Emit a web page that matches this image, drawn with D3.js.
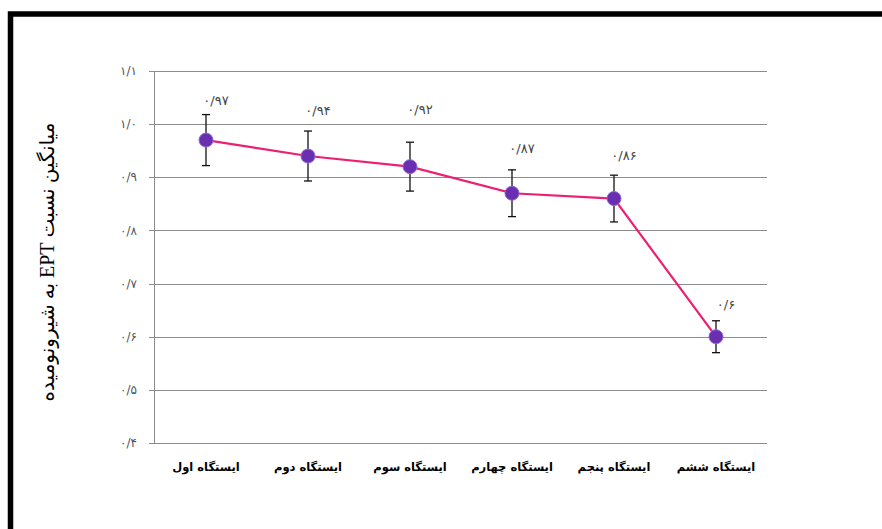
<!DOCTYPE html>
<html>
<head>
<meta charset="utf-8">
<script src="https://cdn.jsdelivr.net/npm/d3@7"></script>
<style>
  body { margin: 0; background: #fff; }
  svg { display: block; }
</style>
</head>
<body>
<div id="chart"></div>
<script>
// stations, mean EPT/Chironomidae ratio, error
const stations = ["ایستگاه اول", "ایستگاه دوم", "ایستگاه سوم", "ایستگاه چهارم", "ایستگاه پنجم", "ایستگاه ششم"];
const ratios = [0.97, 0.94, 0.92, 0.87, 0.86, 0.60];
const errors = [0.048, 0.047, 0.046, 0.044, 0.044, 0.03];
const valueLabels = ["۰/۹۷", "۰/۹۴", "۰/۹۲", "۰/۸۷", "۰/۸۶", "۰/۶"];
const yTicks = [0.4, 0.5, 0.6, 0.7, 0.8, 0.9, 1.0, 1.1];
const yTickLabels = ["۰/۴", "۰/۵", "۰/۶", "۰/۷", "۰/۸", "۰/۹", "۱/۰", "۱/۱"];
// label nudges above each marker (px)
const labelDy = [40, 46, 57, 45, 43, 32];

const W = 882, H = 529;
const margin = {left: 155, right: 115, top: 71, bottom: 86};

const svg = d3.select("#chart").append("svg")
  .attr("width", W)
  .attr("height", H);

// outer frame
svg.append("rect")
  .attr("x", 10.5).attr("y", 14)
  .attr("width", W + 20).attr("height", H + 20)
  .attr("fill", "none")
  .attr("stroke", "#000")
  .attr("stroke-width", 5.5);

const x = d3.scaleBand().domain(stations).range([margin.left, W - margin.right]);
const y = d3.scaleLinear().domain([0.4, 1.1]).range([H - margin.bottom, margin.top]);

// gridlines
svg.append("g").selectAll("line")
  .data(yTicks)
  .enter().append("line")
  .attr("x1", margin.left - 6)
  .attr("x2", W - margin.right)
  .attr("y1", d => Math.round(y(d)) + 0.5)
  .attr("y2", d => Math.round(y(d)) + 0.5)
  .attr("stroke", "#8c8c8c")
  .attr("stroke-width", 1);

// y axis line
svg.append("line")
  .attr("x1", margin.left - 0.5).attr("x2", margin.left - 0.5)
  .attr("y1", y(1.1)).attr("y2", y(0.4))
  .attr("stroke", "#8c8c8c");

// y tick labels
svg.append("g").selectAll("text")
  .data(yTicks)
  .enter().append("text")
  .attr("x", margin.left - 18)
  .attr("y", d => y(d))
  .attr("dy", "0.35em")
  .attr("text-anchor", "end")
  .attr("direction", "ltr")
  .style("font-family", "'DejaVu Sans', sans-serif")
  .style("font-size", "12px")
  .style("letter-spacing", "1px")
  .style("fill", "#555")
  .text((d, i) => yTickLabels[i]);

// y title
svg.append("text")
  .attr("transform", "translate(54," + 262 + ") rotate(-90)")
  .attr("text-anchor", "middle")
  .attr("direction", "rtl")
  .style("font-family", "'Liberation Serif', 'DejaVu Sans', serif")
  .style("font-size", "20px")
  .style("fill", "#000")
  .text("میانگین نسبت EPT به شیرونومیده");

// x labels
svg.append("g").selectAll("text")
  .data(stations)
  .enter().append("text")
  .attr("x", d => x(d) + x.bandwidth() / 2)
  .attr("y", H - margin.bottom + 28)
  .attr("text-anchor", "middle")
  .attr("direction", "rtl")
  .style("font-family", "'DejaVu Sans', sans-serif")
  .style("font-weight", "bold")
  .style("font-size", "11.5px")
  .style("fill", "#000")
  .text(d => d);

const cx = (d, i) => x(stations[i]) + x.bandwidth() / 2;

// line
svg.append("path")
  .datum(ratios)
  .attr("fill", "none")
  .attr("stroke", "#ec1f73")
  .attr("stroke-width", 2.2)
  .attr("d", d3.line().x(cx).y(d => y(d)));

// error bars
const eb = svg.append("g").selectAll("g")
  .data(ratios)
  .enter().append("g")
  .attr("stroke", "#111")
  .attr("stroke-width", 1.3);

eb.append("line")
  .attr("x1", cx).attr("x2", cx)
  .attr("y1", (d, i) => y(d + errors[i]))
  .attr("y2", (d, i) => y(d - errors[i]));
eb.append("line")
  .attr("x1", (d, i) => cx(d, i) - 4).attr("x2", (d, i) => cx(d, i) + 4)
  .attr("y1", (d, i) => y(d + errors[i])).attr("y2", (d, i) => y(d + errors[i]));
eb.append("line")
  .attr("x1", (d, i) => cx(d, i) - 4).attr("x2", (d, i) => cx(d, i) + 4)
  .attr("y1", (d, i) => y(d - errors[i])).attr("y2", (d, i) => y(d - errors[i]));

// markers
svg.append("g").selectAll("circle")
  .data(ratios)
  .enter().append("circle")
  .attr("cx", cx)
  .attr("cy", d => y(d))
  .attr("r", 7)
  .attr("fill", "#6a2fb0")
  .attr("stroke", "#8a6ad6")
  .attr("stroke-width", 1);

// value labels
svg.append("g").selectAll("text")
  .data(ratios)
  .enter().append("text")
  .attr("x", (d, i) => cx(d, i) + 10)
  .attr("y", (d, i) => y(d) - labelDy[i])
  .attr("dy", "0.35em")
  .attr("text-anchor", "middle")
  .attr("direction", "ltr")
  .style("font-family", "'DejaVu Sans', sans-serif")
  .style("font-size", "13px")
  .style("letter-spacing", "1.5px")
  .style("fill", "#444")
  .text((d, i) => valueLabels[i]);
</script>
</body>
</html>
